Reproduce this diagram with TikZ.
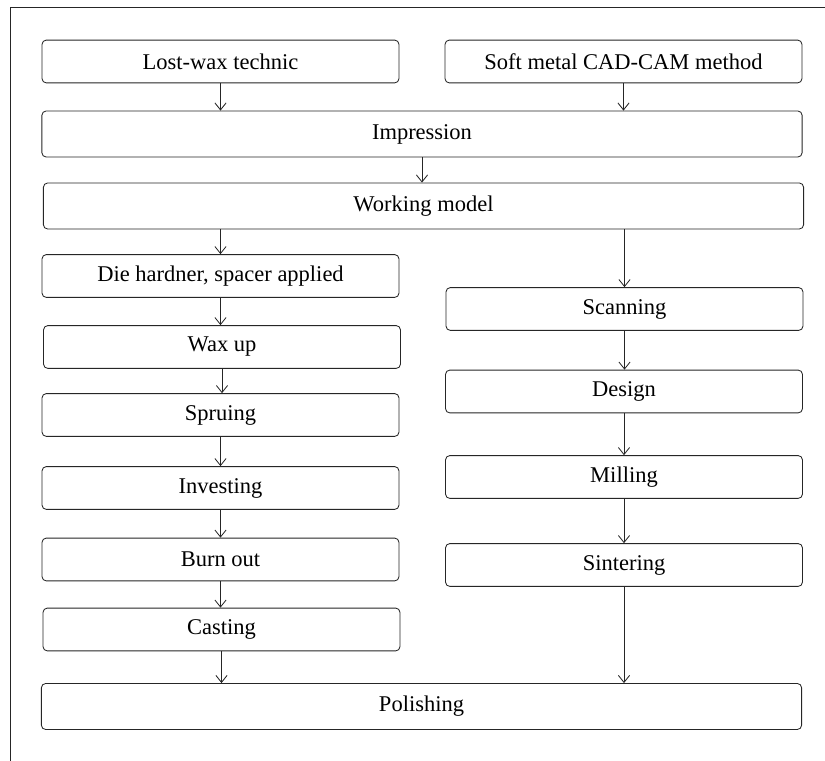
\documentclass[tikz,border=0pt]{standalone}
\usepackage{fontspec}
\setmainfont{Liberation Serif}
\usetikzlibrary{arrows.meta}

\tikzset{
  stage/.style={draw=black!85, line width=0.6pt, rounded corners=3pt, fill=white,
    minimum width=8.92cm, minimum height=1.07cm, inner sep=0pt,
    font=\fontsize{16}{19}\selectfont},
  widestage/.style={stage, minimum width=19cm, minimum height=1.15cm},
  flow/.style={draw=black!85, line width=0.6pt, -{Straight Barb[length=5pt,width=8pt]}}
}

\begin{document}
\begin{tikzpicture}[x=0.025cm, y=-0.025cm]
\useasboundingbox (0,0) rectangle (825,761);
% frame
\draw[black!85, line width=0.7pt] (825,7) -- (10,7) -- (10,761);

% top row
\node[stage] (lost) at (220.5,61.5) {Lost-wax technic};
\node[stage] (soft) at (623.5,61.5) {Soft metal CAD-CAM method};
\node[widestage] (imp) at (422,134) {Impression};
\node[widestage] (work) at (423.5,206) {Working model};

% lost-wax column
\node[stage] (die) at (220.5,276) {Die hardner, spacer applied};
\node[stage] (wax) at (222,347) {Wax up};
\node[stage] (sprue) at (220.5,415) {Spruing};
\node[stage] (invest) at (220.5,488) {Investing};
\node[stage] (burn) at (220.5,559.5) {Burn out};
\node[stage] (cast) at (221.5,629.5) {Casting};

% CAD-CAM column
\node[stage] (scan) at (624.5,309) {Scanning};
\node[stage] (design) at (624,391.5) {Design};
\node[stage] (mill) at (624,477) {Milling};
\node[stage] (sinter) at (624,565) {Sintering};

\node[widestage] (polish) at (421.5,706.5) {Polishing};

% arrows
\draw[flow] (lost.south) -- (lost.south |- imp.north);
\draw[flow] (soft.south) -- (soft.south |- imp.north);
\draw[flow] (imp.south) -- (imp.south |- work.north);
\draw[flow] (die.north |- work.south) -- (die.north);
\draw[flow] (scan.north |- work.south) -- (scan.north);
\foreach \a/\b in {die/wax, wax/sprue, sprue/invest, invest/burn, burn/cast, cast/polish,
                   scan/design, design/mill, mill/sinter, sinter/polish}
  \draw[flow] (\a.south) -- (\a.south |- \b.north);
\end{tikzpicture}
\end{document}
